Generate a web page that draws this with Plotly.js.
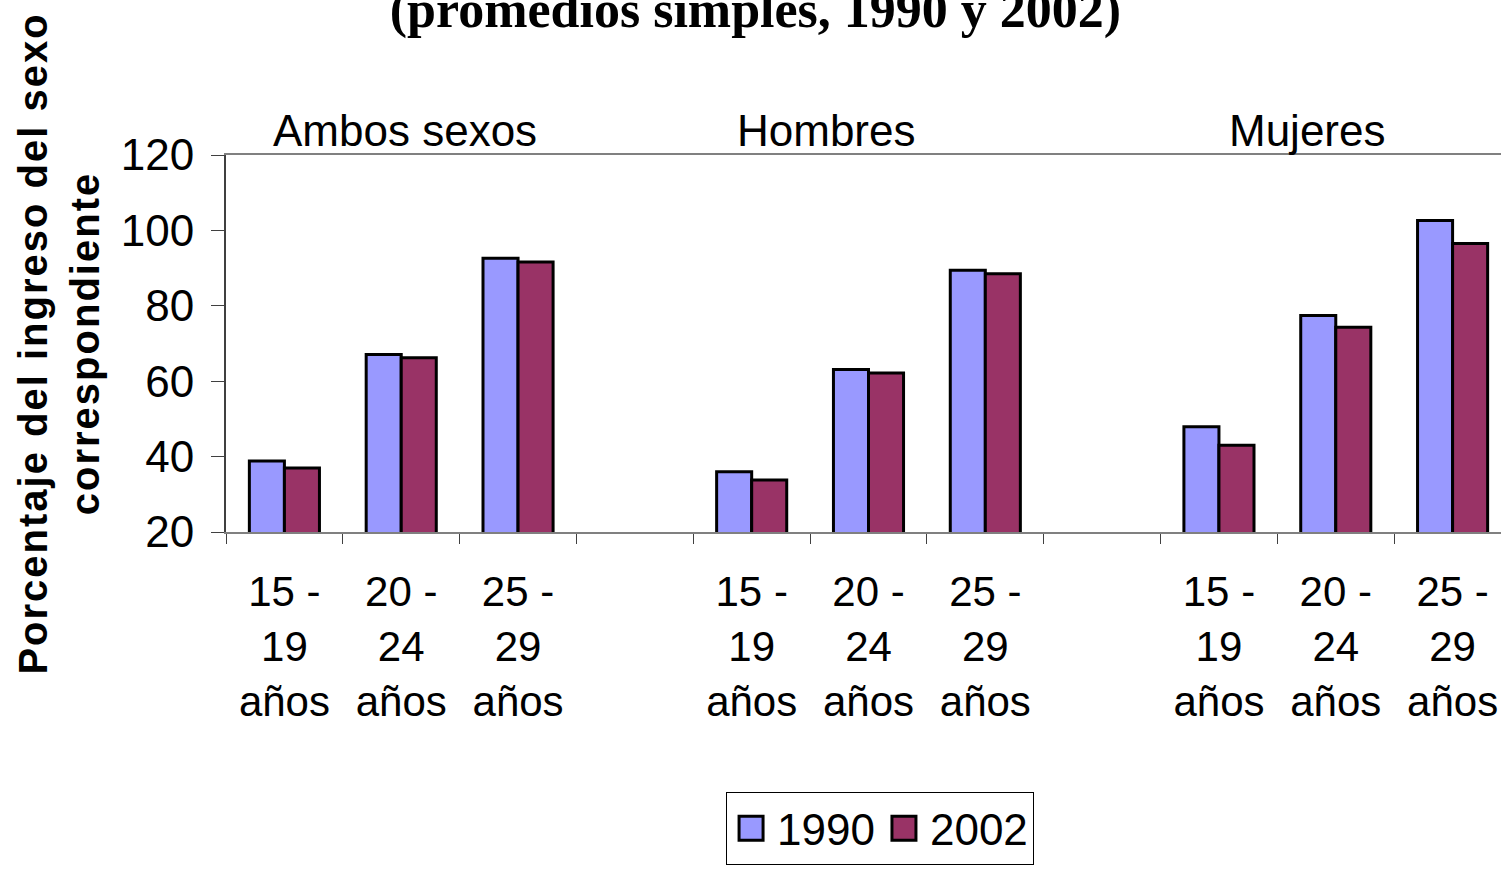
<!DOCTYPE html>
<html>
<head>
<meta charset="utf-8">
<script src="https://cdn.plot.ly/plotly-3.0.1.min.js"></script>
<style>
  html, body { margin: 0; padding: 0; overflow: hidden; background: #fff; }
  #chart { width: 1511px; height: 875px; }
  .ytitle { letter-spacing: 2px; }
  .g-ytitle { transform: translate(-9px, 0px); }
  .legend .legendpoints path {
    transform: translate(24px, 0px) scale(2);
    vector-effect: non-scaling-stroke;
    stroke-width: 3px !important;
    stroke: #000 !important;
  }
</style>
</head>
<body>
<div id="chart"></div>
<script>
// ---- data ----
const titleText = "(promedios simples, 1990 y 2002)";
const yTitle = "Porcentaje del ingreso del sexo<br>correspondiente";
const groups = ["Ambos sexos", "Hombres", "Mujeres"];
const ageGroups = ["15 -<br>19<br>años", "20 -<br>24<br>años", "25 -<br>29<br>años"];
const seriesNames = ["1990", "2002"];
// values per group, in the order of ageGroups
const values1990 = {
  "Ambos sexos": [38.8, 67.1, 92.6],
  "Hombres":     [36.0, 63.1, 89.4],
  "Mujeres":     [47.9, 77.4, 102.6]
};
const values2002 = {
  "Ambos sexos": [37.0, 66.2, 91.6],
  "Hombres":     [33.8, 62.2, 88.5],
  "Mujeres":     [43.0, 74.3, 96.5]
};
const yTicks = [20, 40, 60, 80, 100, 120];

// ---- build category axis (with an empty slot between groups) ----
const cats = [], tickText = [], y1990 = [], y2002 = [];
groups.forEach((g, gi) => {
  ageGroups.forEach((a, ai) => {
    cats.push(g + "|" + ai);
    tickText.push(a);
    y1990.push(values1990[g][ai]);
    y2002.push(values2002[g][ai]);
  });
  if (gi < groups.length - 1) {
    cats.push("gap" + gi);
    tickText.push("");
    y1990.push(null);
    y2002.push(null);
  }
});

const sans = "'Liberation Sans', Arial, sans-serif";

const traces = [
  { type: "bar", name: seriesNames[0], x: cats, y: y1990,
    marker: { color: "#9999FF", line: { color: "#000000", width: 3 } } },
  { type: "bar", name: seriesNames[1], x: cats, y: y2002,
    marker: { color: "#993366", line: { color: "#000000", width: 3 } } }
];

// group label positions (category index units) - style
const groupLabelX = [1.03, 4.64, 8.76];

const layout = {
  width: 1511, height: 875,
  margin: { l: 226, r: 0, t: 155, b: 343 },
  paper_bgcolor: "#ffffff", plot_bgcolor: "#ffffff",
  bargap: 0.4, bargroupgap: 0,
  showlegend: true,
  title: {
    text: titleText,
    font: { family: "'Liberation Serif', 'Times New Roman', serif", size: 52, color: "#000", weight: "bold" },
    xref: "container", x: 0.5, xanchor: "center",
    yref: "container", y: 0.99, yanchor: "middle"
  },
  xaxis: {
    type: "category",
    categoryorder: "array", categoryarray: cats,
    tickmode: "array", tickvals: cats, ticktext: tickText,
    tickson: "boundaries",
    range: [-0.5, cats.length - 0.5],
    showline: true, linecolor: "#808080", linewidth: 2, mirror: true,
    ticks: "outside", ticklen: 10, tickwidth: 1, tickcolor: "#404040",
    ticklabelstandoff: 22,
    showgrid: false, zeroline: false,
    tickfont: { family: sans, size: 42, color: "#000" },
    tickangle: 0
  },
  yaxis: {
    range: [20, 120],
    tickmode: "array", tickvals: yTicks,
    showline: true, linecolor: "#404040", linewidth: 2,
    ticks: "outside", ticklen: 13, tickwidth: 1, tickcolor: "#404040",
    ticklabelstandoff: 8,
    showgrid: false, zeroline: false,
    tickfont: { family: sans, size: 44, color: "#000" },
    title: {
      text: yTitle, standoff: 0,
      font: { family: sans, size: 40, color: "#000", weight: "bold" }
    }
  },
  legend: {
    orientation: "h",
    xref: "paper", x: 0.509, xanchor: "center",
    yref: "paper", y: -0.69, yanchor: "top",
    bordercolor: "#000000", borderwidth: 1, bgcolor: "#ffffff",
    font: { family: sans, size: 44, color: "#000" },
    itemwidth: 40,
    traceorder: "normal"
  },
  annotations: groups.map((g, i) => ({
    text: g, xref: "x", x: groupLabelX[i], yref: "paper", y: 1,
    yanchor: "middle", yshift: 25, showarrow: false,
    font: { family: sans, size: 44, color: "#000" }
  }))
};

Plotly.newPlot("chart", traces, layout, { displayModeBar: false, staticPlot: true });
</script>
</body>
</html>
